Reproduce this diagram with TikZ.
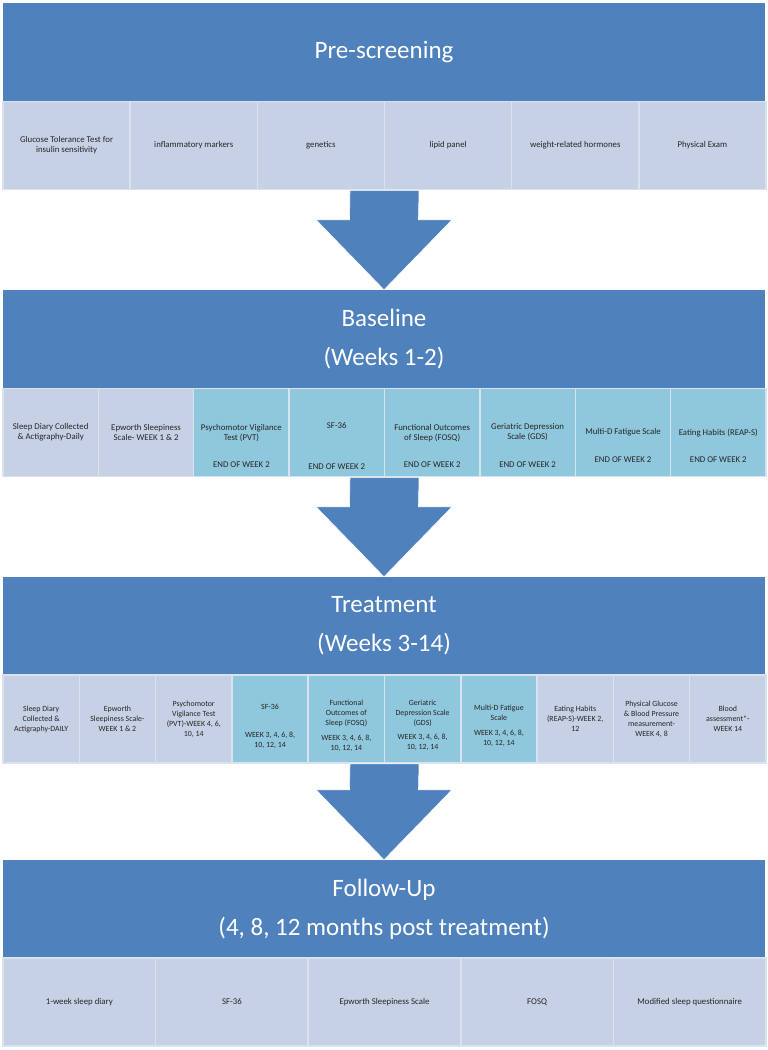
\documentclass[tikz,border=0pt]{standalone}
\usepackage{fontspec}
\setmainfont{Carlito}
\usetikzlibrary{calc}
\definecolor{flowblue}{RGB}{79,129,189}
\definecolor{cellgray}{RGB}{198,209,229}
\definecolor{cellteal}{RGB}{143,199,220}
\definecolor{cellline}{RGB}{218,226,239}
\definecolor{celltext}{RGB}{38,38,38}
\tikzset{
  stage/.style={rectangle, fill=flowblue, text=white, minimum width=762pt, minimum height=98pt, align=center, font=\fontsize{25}{39}\selectfont},
  cell/.style={rectangle, draw=cellline, line width=1.5pt, fill=cellgray, minimum width=#1, minimum height=88pt, inner sep=1pt, align=center, text=celltext, font=\fontsize{8.8}{10}\selectfont},
  tealcell/.style={cell=#1, fill=cellteal},
  note/.style={align=center, inner sep=1pt, text=celltext, font=\fontsize{8.8}{10}\selectfont},
  smalltext/.style={font=\fontsize{7.9}{10}\selectfont},
  flowarrow/.style={fill=flowblue, draw=white, line width=0.6pt}
}

\begin{document}
\begin{tikzpicture}[x=1pt, y=-1pt]
\useasboundingbox (0,0) rectangle (768,1050);
%pre-screening
\node[stage] (pre) at (384,52) {Pre-screening};
\node[cell=127.2pt] (pre1) at (66.6,145.5) {Glucose Tolerance Test for\\insulin sensitivity};
\node[cell=127.2pt] (pre2) at (193.75,145.5) {inflammatory markers};
\node[cell=127.2pt] (pre3) at (320.9,145.5) {genetics};
\node[cell=127.2pt] (pre4) at (448.1,145.5) {lipid panel};
\node[cell=127.2pt] (pre5) at (575.25,145.5) {weight-related hormones};
\node[cell=127.2pt] (pre6) at (702.4,145.5) {Physical Exam};
%baseline
\node[stage] (base) at (384,339) {Baseline\\(Weeks 1-2)};
\node[cell=95.4pt] (base1) at (50.7,432.5) {Sleep Diary Collected\\\& Actigraphy-Daily};
\node[cell=95.4pt] (base2) at (146.1,432.5) {Epworth Sleepiness\\Scale- WEEK 1 \& 2};
\node[tealcell=95.4pt] (base3) at (241.4,432.5) {};
\node[note] (base3a) at (241.4,433) {Psychomotor Vigilance\\Test (PVT)};
\node[note] (base3b) at (241.4,465) {END OF WEEK 2};
\node[tealcell=95.4pt] (base4) at (336.8,432.5) {};
\node[note] (base4a) at (336.8,426) {SF-36};
\node[note] (base4b) at (336.8,467) {END OF WEEK 2};
\node[tealcell=95.4pt] (base5) at (432.2,432.5) {};
\node[note] (base5a) at (432.2,433) {Functional Outcomes\\of Sleep (FOSQ)};
\node[note] (base5b) at (432.2,465) {END OF WEEK 2};
\node[tealcell=95.4pt] (base6) at (527.6,432.5) {};
\node[note] (base6a) at (527.6,432) {Geriatric Depression\\Scale (GDS)};
\node[note] (base6b) at (527.6,465) {END OF WEEK 2};
\node[tealcell=95.4pt] (base7) at (623,432.5) {};
\node[note] (base7a) at (623,432) {Multi-D Fatigue Scale};
\node[note] (base7b) at (623,460) {END OF WEEK 2};
\node[tealcell=95.4pt] (base8) at (718.3,432.5) {};
\node[note] (base8a) at (718.3,433) {Eating Habits (REAP-S)};
\node[note] (base8b) at (718.3,460) {END OF WEEK 2};
%treatment
\node[stage] (treat) at (384,626) {Treatment\\(Weeks 3-14)};
\node[cell=76.3pt, smalltext] (treat1) at (41.15,719) {Sleep Diary\\Collected \&\\Actigraphy-DAILY};
\node[cell=76.3pt, smalltext] (treat2) at (117.45,719) {Epworth\\Sleepiness Scale-\\WEEK 1 \& 2};
\node[cell=76.3pt, smalltext] (treat3) at (193.75,719) {Psychomotor\\Vigilance Test\\(PVT)-WEEK 4, 6,\\10, 14};
\node[tealcell=76.3pt] (treat4) at (270.05,719) {};
\node[note, smalltext] (treat4a) at (270.05,707) {SF-36};
\node[note, smalltext] (treat4b) at (270.05,740) {WEEK 3, 4, 6, 8,\\10, 12, 14};
\node[tealcell=76.3pt] (treat5) at (346.35,719) {};
\node[note, smalltext] (treat5a) at (346.35,713) {Functional\\Outcomes of\\Sleep (FOSQ)};
\node[note, smalltext] (treat5b) at (346.35,743) {WEEK 3, 4, 6, 8,\\10, 12, 14};
\node[tealcell=76.3pt] (treat6) at (422.65,719) {};
\node[note, smalltext] (treat6a) at (422.65,713) {Geriatric\\Depression Scale\\(GDS)};
\node[note, smalltext] (treat6b) at (422.65,742.5) {WEEK 3, 4, 6, 8,\\10, 12, 14};
\node[tealcell=76.3pt] (treat7) at (498.95,719) {};
\node[note, smalltext] (treat7a) at (498.95,713) {Multi-D Fatigue\\Scale};
\node[note, smalltext] (treat7b) at (498.95,738) {WEEK 3, 4, 6, 8,\\10, 12, 14};
\node[cell=76.3pt, smalltext] (treat8) at (575.25,719) {Eating Habits\\(REAP-S)-WEEK 2,\\12};
\node[cell=76.3pt, smalltext] (treat9) at (651.55,719) {Physical Glucose\\\& Blood Pressure\\measurement-\\WEEK 4, 8};
\node[cell=76.3pt, smalltext] (treat10) at (727.85,719) {Blood\\assessment*-\\WEEK 14};
%follow-up
\node[stage] (follow) at (384,909) {Follow-Up\\(4, 8, 12 months post treatment)};
\node[cell=152.6pt] (follow1) at (79.3,1002) {1-week sleep diary};
\node[cell=152.6pt] (follow2) at (231.9,1002) {SF-36};
\node[cell=152.6pt] (follow3) at (384.5,1002) {Epworth Sleepiness Scale};
\node[cell=152.6pt] (follow4) at (537.1,1002) {FOSQ};
\node[cell=152.6pt] (follow5) at (689.7,1002) {Modified sleep questionnaire};
%arrows
\coordinate (preend) at ($(pre3.south)!0.5!(pre4.south)$);
\coordinate (baseend) at ($(base4.south)!0.5!(base5.south)$);
\coordinate (treatend) at ($(treat5.south)!0.5!(treat6.south)$);
\fill[flowarrow] ($(preend)+(-34.5,0)$) -- ($(base.north)+(-34.5,-70)$) -- ++(-33.5,0) -- (base.north) -- ++(68,-70) -- ++(-33.5,0) -- ($(preend)+(34.5,0)$) -- cycle;
\fill[flowarrow] ($(baseend)+(-34.5,0)$) -- ($(treat.north)+(-34.5,-70)$) -- ++(-33.5,0) -- (treat.north) -- ++(68,-70) -- ++(-33.5,0) -- ($(baseend)+(34.5,0)$) -- cycle;
\fill[flowarrow] ($(treatend)+(-34.5,0)$) -- ($(follow.north)+(-34.5,-70)$) -- ++(-33.5,0) -- (follow.north) -- ++(68,-70) -- ++(-33.5,0) -- ($(treatend)+(34.5,0)$) -- cycle;
\end{tikzpicture}
\end{document}
